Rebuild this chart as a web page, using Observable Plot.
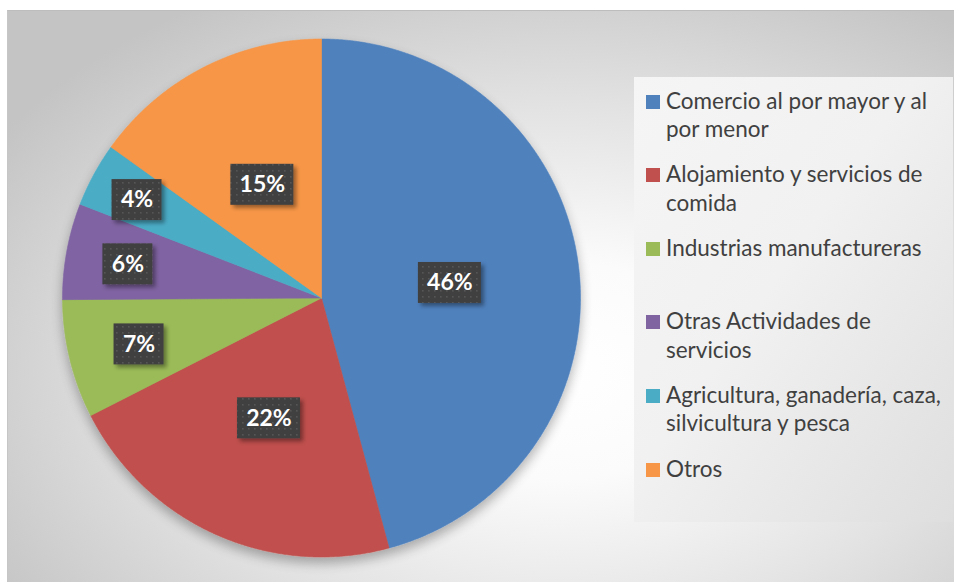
<!DOCTYPE html>
<html><head><meta charset="utf-8">
<script src="https://cdn.jsdelivr.net/npm/d3@7"></script>
<script src="https://cdn.jsdelivr.net/npm/@observablehq/plot@0.6"></script>
<style>
html,body{margin:0;padding:0;background:#fff;width:956px;height:582px;overflow:hidden;font-family:Lato,"Open Sans",sans-serif;}
#frame{position:absolute;left:7px;top:10px;width:946px;height:580px;border-top:1px solid #bdbdbd;border-left:1px solid #c6c6c6;
  background:radial-gradient(ellipse 70% 75% at 58% 62%, #ffffff 0%, #fbfbfb 25%, #e3e3e3 60%, #c4c4c4 100%);}
#chart{position:absolute;left:0;top:0;}
#legend{position:absolute;left:634px;top:77px;width:319px;height:445px;
  background:linear-gradient(125deg,#f5f5f5 0%,#f1f1f1 45%,#dedede 100%);}
.item{position:absolute;left:12px;display:flex;align-items:flex-start;font-size:22.5px;line-height:28.5px;color:#404040;}
.sw{width:14px;height:14px;margin-top:8px;margin-right:6px;flex:none;}
.txt{width:282px;}
</style></head><body>
<div id="frame"></div>
<div id="chart"></div>
<div id="legend"></div>
<script>
const categories = [
  "Comercio al por mayor y al por menor",
  "Alojamiento y servicios de comida",
  "Industrias manufactureras",
  "Otras Actividades de servicios",
  "Agricultura, ganadería, caza, silvicultura y pesca",
  "Otros"
];
const shares = [45.8, 21.7, 7.4, 6.0, 4.0, 15.1];
const labels = ["46%", "22%", "7%", "6%", "4%", "15%"];

const palette = ["#4f81bd", "#c0504d", "#9bbb59", "#8064a2", "#4bacc6", "#f79646"];

const rows = categories.map((name, i) => ({name, share: shares[i], label: labels[i]}));
const total = d3.sum(shares);
const arcs = d3.pie().sort(null).value(d => d.share)(rows);

const slicePts = arcs.flatMap(a => {
  const n = Math.max(4, Math.ceil((a.endAngle - a.startAngle) / 0.005));
  const out = [{name: a.data.name, x: 0, y: 0}];
  for (let i = 0; i <= n; i++) {
    const t = a.startAngle + (a.endAngle - a.startAngle) * i / n;
    out.push({name: a.data.name, x: Math.sin(t), y: Math.cos(t)});
  }
  out.push({name: a.data.name, x: 0, y: 0});
  return out;
});

const cx = 321, cy = 297.5, R = 259;

const labelPts = arcs.map(a => {
  const f = a.data.share / total;
  const r = f >= 0.1 ? 0.5 : 0.91 - 2.5 * f;
  const m = (a.startAngle + a.endAngle) / 2;
  const hw = (24 + 13 * a.data.label.length) / 2 / R, hh = 20.5 / R;
  const x = r * Math.sin(m), y = r * Math.cos(m) - 2 / R;
  return {label: a.data.label, x, y, x1: x - hw, x2: x + hw, y1: y - hh, y2: y + hh};
});

const svg = Plot.plot({
  width: 956, height: 582,
  margin: 0,
  style: {background: "transparent"},
  x: {domain: [-1, 1], range: [cx - R, cx + R], axis: null},
  y: {domain: [-1, 1], range: [cy + R, cy - R], axis: null},
  color: {domain: categories, range: palette},
  marks: [
    Plot.line(slicePts, {x: "x", y: "y", z: "name", fill: "name", stroke: "name", strokeWidth: 0.6}),
    Plot.rect(labelPts, {x1: "x1", x2: "x2", y1: "y1", y2: "y2", fill: "#404040"}),
    Plot.text(labelPts, {x: "x", y: "y", text: "label", fill: "white", fontWeight: "bold", fontSize: 23, fontFamily: "Lato, 'Open Sans', sans-serif"})
  ]
});
document.getElementById("chart").append(svg);

try {
  const root = d3.select(svg);
  const defs = root.insert("defs", ":first-child");
  const pat = defs.append("pattern").attr("id", "dots").attr("patternUnits", "userSpaceOnUse").attr("width", 6).attr("height", 6);
  pat.append("rect").attr("width", 6).attr("height", 6).attr("fill", "#404040");
  pat.append("rect").attr("x", 2).attr("y", 2).attr("width", 1.6).attr("height", 1.6).attr("fill", "#575757");

  const f1 = defs.append("filter").attr("id", "pieShadow").attr("x", "-20%").attr("y", "-20%").attr("width", "140%").attr("height", "145%");
  f1.append("feGaussianBlur").attr("in", "SourceAlpha").attr("stdDeviation", 6).attr("result", "b");
  f1.append("feOffset").attr("in", "b").attr("dx", 0).attr("dy", 6).attr("result", "o");
  f1.append("feComponentTransfer").attr("in", "o").attr("result", "s").append("feFuncA").attr("type", "linear").attr("slope", 0.3);
  const m1 = f1.append("feMerge"); m1.append("feMergeNode").attr("in", "s"); m1.append("feMergeNode").attr("in", "SourceGraphic");

  const f2 = defs.append("filter").attr("id", "boxShadow").attr("x", "-30%").attr("y", "-30%").attr("width", "170%").attr("height", "170%");
  f2.append("feGaussianBlur").attr("in", "SourceAlpha").attr("stdDeviation", 2).attr("result", "b");
  f2.append("feOffset").attr("in", "b").attr("dx", 3).attr("dy", 3).attr("result", "o");
  f2.append("feComponentTransfer").attr("in", "o").attr("result", "s").append("feFuncA").attr("type", "linear").attr("slope", 0.4);
  const m2 = f2.append("feMerge"); m2.append("feMergeNode").attr("in", "s"); m2.append("feMergeNode").attr("in", "SourceGraphic");

  root.select('g[aria-label="line"]').attr("filter", "url(#pieShadow)");
  root.selectAll('g[aria-label="rect"] rect').attr("fill", "url(#dots)").attr("filter", "url(#boxShadow)");
} catch (e) {}

const legend = d3.select("#legend");
categories.forEach((name, i) => {
  const it = legend.append("div").attr("class", "item").style("top", (9.5 + i * 73.6) + "px");
  it.append("div").attr("class", "sw").style("background", palette[i]);
  it.append("div").attr("class", "txt").text(name);
});
</script>
</body></html>
